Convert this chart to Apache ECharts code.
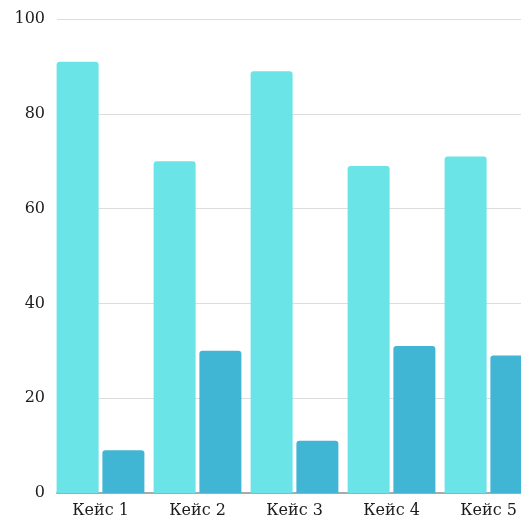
<!DOCTYPE html>
<html>
<head>
<meta charset="utf-8">
<script src="https://cdn.jsdelivr.net/npm/echarts@6/dist/echarts.min.js"></script>
<style>html,body{margin:0;padding:0;background:#fff}#c{width:521px;height:519px}</style>
</head>
<body>
<div id="c"></div>
<script>
var categories = ['Кейс 1', 'Кейс 2', 'Кейс 3', 'Кейс 4', 'Кейс 5'];
var seriesA = [91, 70, 89, 69, 71];
var seriesB = [9, 30, 11, 31, 29];
var yTicks = [0, 20, 40, 60, 80, 100];

var font = '"DejaVu Serif", "Liberation Serif", serif';
var chart = echarts.init(document.getElementById('c'), null, {renderer: 'canvas'});
chart.setOption({
  animation: false,
  grid: [
    {left: 52, width: 485, top: 19, bottom: 26, containLabel: false, outerBoundsMode: 'none'},
    {left: 57, width: 480, top: 19, bottom: 26, containLabel: false, outerBoundsMode: 'none'}
  ],
  xAxis: [
    {
      type: 'category', gridIndex: 0, data: categories,
      axisLine: {show: false}, axisTick: {show: false},
      axisLabel: {fontFamily: font, fontSize: 16, color: '#1c1c1c', margin: 10}
    },
    {
      type: 'value', gridIndex: 1, min: 0, max: 1,
      axisLine: {show: true, onZero: false, lineStyle: {color: '#aaaaaa', width: 2}},
      axisTick: {show: false}, axisLabel: {show: false}, splitLine: {show: false}
    }
  ],
  yAxis: [
    {
      type: 'value', gridIndex: 0, min: yTicks[0], max: yTicks[yTicks.length - 1], interval: 20,
      axisLine: {show: false}, axisTick: {show: false}, axisLabel: {show: false}, splitLine: {show: false}
    },
    {
      type: 'value', gridIndex: 1, min: yTicks[0], max: yTicks[yTicks.length - 1], interval: 20,
      axisLine: {show: false}, axisTick: {show: false},
      axisLabel: {fontFamily: font, fontSize: 16, color: '#1c1c1c', margin: 12},
      splitLine: {show: true, lineStyle: {color: '#dddddd', width: 1}}
    }
  ],
  series: [
    {
      type: 'bar', xAxisIndex: 0, yAxisIndex: 0, data: seriesA,
      barWidth: 42, barGap: '9%',
      itemStyle: {color: '#6ae4e7', borderRadius: [3, 3, 0, 0]}
    },
    {
      type: 'bar', xAxisIndex: 0, yAxisIndex: 0, data: seriesB,
      barWidth: 42, barGap: '9%',
      itemStyle: {color: '#41b5d4', borderRadius: [3, 3, 0, 0]}
    },
    {
      type: 'line', xAxisIndex: 1, yAxisIndex: 1, data: [], silent: true
    }
  ]
});
</script>
</body>
</html>
